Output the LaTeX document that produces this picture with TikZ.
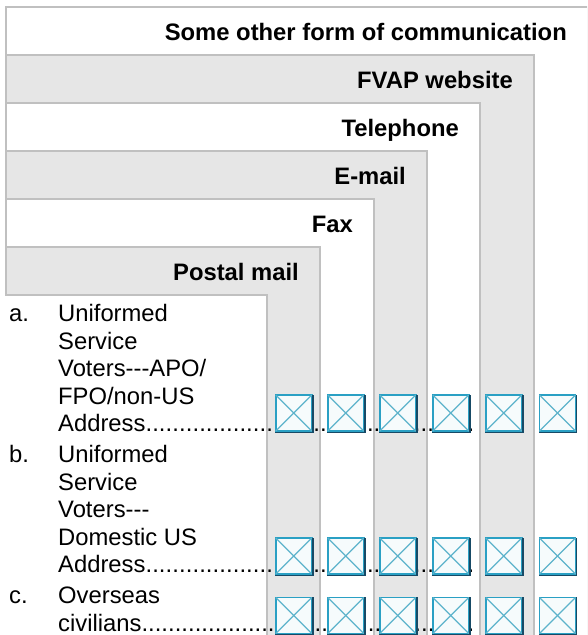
\documentclass[tikz,border=0pt]{standalone}
\usepackage{fontspec}
\setmainfont{Liberation Sans}[Ligatures=TeXOff]
\definecolor{panelgray}{HTML}{E6E6E6}
\definecolor{panelline}{HTML}{C0C0C0}
\definecolor{boxteal}{HTML}{2AA0C4}
\definecolor{boxdark}{HTML}{174A66}
\definecolor{boxx}{HTML}{5DB3CB}
\definecolor{boxfill}{HTML}{F6FBFC}
\tikzset{
  hdr/.style={font=\fontsize{23.8}{27.5}\selectfont\bfseries, inner sep=0pt, anchor=base east},
  bodytxt/.style={font=\fontsize{23.8}{27.5}\selectfont, inner sep=0pt, anchor=base west},
  panelborder/.style={draw=panelline, line width=2.3pt},
  cbox/.style={draw=boxteal, line width=1.8pt, fill=boxfill, minimum size=36pt, inner sep=0pt, outer sep=0pt},
  cboxx/.style={draw=boxx, line width=1.3pt},
  cboxshade/.style={draw=boxdark, line width=1.2pt}
}
\newcommand\dotlead[1]{\makebox[416pt][l]{#1\xleaders\hbox{.}\hfill}}
\begin{document}
\begin{tikzpicture}[x=1pt,y=-1pt]
\useasboundingbox (0,0) rectangle (587,635);
\clip (0,0) rectangle (587,635);
% nested panels
\foreach \tp/\rt/\fc in {7/588/white, 55/534/panelgray, 103/480/white, 151/427/panelgray, 199/374/white, 247/320/panelgray}{
  \fill[\fc] (6,\tp) rectangle (\rt,645);
  \draw[panelborder] (6,645) -- (6,\tp) -- (\rt,\tp) -- (\rt,645);
}
% text cell
\fill[white] (3,295) rectangle (267,645);
\draw[panelborder] (5,295) -- (267,295) -- (267,645);
% headers
\node[hdr] (hOther) at (567,40) {Some other form of communication};
\node[hdr] (hFvap) at (513,88) {FVAP website};
\node[hdr] (hTel) at (459,136) {Telephone};
\node[hdr] (hMail) at (406,184) {E-mail};
\node[hdr] (hFax) at (353,232) {Fax};
\node[hdr] (hPost) at (299,280) {Postal mail};
% row texts
\node[bodytxt] (aLbl) at (9,321.5) {a.};
\node[bodytxt] (aTxt) at (58,321.5) {\parbox[t]{420pt}{Uniformed\\Service\\Voters---APO/\\FPO/non-US\\\dotlead{Address}}};
\node[bodytxt] (bLbl) at (9,462.5) {b.};
\node[bodytxt] (bTxt) at (58,462.5) {\parbox[t]{420pt}{Uniformed\\Service\\Voters---\\Domestic US\\\dotlead{Address}}};
\node[bodytxt] (cLbl) at (9,603.5) {c.};
\node[bodytxt] (cTxt) at (58,603.5) {\parbox[t]{420pt}{Overseas\\\dotlead{civilians}}};
% checkboxes
\foreach \r/\yy in {a/413, b/556, c/615.5}{
  \foreach \k/\xx in {1/293.8, 2/345.8, 3/397.8, 4/450.8, 5/503.8, 6/557.5}{
    \node[cbox] (cb\r\k) at (\xx,\yy) {};
    \draw[cboxx] (cb\r\k.south west) -- (cb\r\k.north east);
    \draw[cboxx] (cb\r\k.north west) -- (cb\r\k.south east);
    \draw[cboxshade] ([xshift=-0.5pt,yshift=-1.2pt]cb\r\k.south west) -- ([xshift=1.2pt,yshift=-1.2pt]cb\r\k.south east) -- ([xshift=1.2pt,yshift=0.5pt]cb\r\k.north east);
  }
}
\end{tikzpicture}
\end{document}
